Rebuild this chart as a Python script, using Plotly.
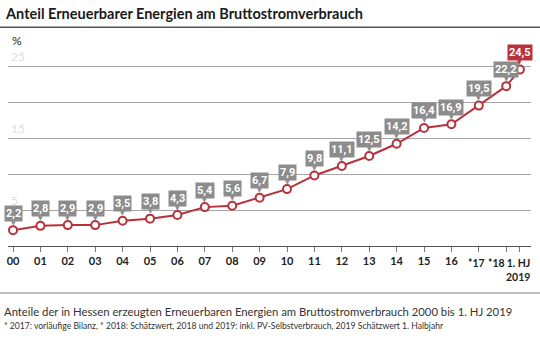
import plotly.graph_objects as go

# ---- data ----
positions = [0, 1, 2, 3, 4, 5, 6, 7, 8, 9, 10, 11, 12, 13, 14, 15, 16, 17, 18, 18.5]
tick_labels = ["00", "01", "02", "03", "04", "05", "06", "07", "08", "09",
               "10", "11", "12", "13", "14", "15", "16", "*17", "*18", "1. HJ<br>2019"]
shares = [2.2, 2.8, 2.9, 2.9, 3.5, 3.8, 4.3, 5.4, 5.6, 6.7,
          7.9, 9.8, 11.1, 12.5, 14.2, 16.4, 16.9, 19.5, 22.2, 24.5]
grid_labels = [25, 15, 5]

title = "Anteil Erneuerbarer Energien am Bruttostromverbrauch"
note1 = "Anteile der in Hessen erzeugten Erneuerbaren Energien am Bruttostromverbrauch 2000 bis 1. HJ 2019"
note2 = ("* 2017: vorläufige Bilanz, * 2018: Schätzwert, 2018 und 2019: inkl. PV-Selbstverbrauch, "
         "2019 Schätzwert 1. Halbjahr")

# ---- layout geometry (pixels) ----
W, H = 540, 341
L, R, T, B = 8, 9, 58, 95
PW, PH = W - L - R, H - T - B

def px(p):
    return (p - L) / PW

def py(p):
    return (H - B - p) / PH

RED = "#b8323b"
GRAY = "#8c8c8c"
FONT = "Lato"
LABEL_FONT = "Roboto"
TICKFONT = dict(family=FONT, size=11, color="#222", weight="bold")
TICKFONT_S = dict(family=FONT, size=10.5, color="#222", weight="bold")

fig = go.Figure()
fig.add_trace(go.Scatter(
    x=positions, y=shares, mode="lines+markers",
    line=dict(color=RED, width=2),
    marker=dict(symbol="circle", size=8, color="white",
                line=dict(color=RED, width=2)),
    cliponaxis=False, hoverinfo="skip", showlegend=False,
))

annotations = []
for g in grid_labels:
    annotations.append(dict(
        x=0, xref="paper", y=g, yref="y", text=str(g), showarrow=False,
        xanchor="left", yanchor="bottom", xshift=1, yshift=0,
        font=dict(family=FONT, size=12, color="#dedede"),
    ))

for i, (x, v) in enumerate(zip(positions, shares)):
    c = RED if i == len(shares) - 1 else GRAY
    annotations.append(dict(
        x=x, y=v, text="▼", showarrow=False, yshift=8,
        font=dict(family="DejaVu Sans", size=6, color=c),
    ))
    annotations.append(dict(
        x=x, y=v, text=f"{v:.1f}".replace(".", ","), showarrow=False,
        yshift=17, bgcolor=c, borderpad=1,
        font=dict(family=LABEL_FONT, size=11, color="white", weight="bold"),
    ))

# last three tick labels placed as annotations (tight spacing at the right end)
for idx, anchor, shift in [(-3, "center", -2), (-2, "right", 1), (-1, "right", 12.3)]:
    annotations.append(dict(
        x=positions[idx], xref="x", y=py(255), yref="paper", text=tick_labels[idx],
        showarrow=False, xanchor=anchor, yanchor="top", align="right", xshift=shift,
        font=TICKFONT_S,
    ))

annotations += [
    dict(x=px(3), y=py(13), xref="paper", yref="paper", text=title,
         showarrow=False, xanchor="left", yanchor="middle",
         font=dict(family=FONT, size=14.5, color="#1a1a1a", weight="bold")),
    dict(x=px(10), y=py(41), xref="paper", yref="paper", text="%",
         showarrow=False, xanchor="left", yanchor="middle",
         font=dict(family=FONT, size=12, color="#222")),
    dict(x=px(2), y=py(311), xref="paper", yref="paper", text=note1,
         showarrow=False, xanchor="left", yanchor="middle",
         font=dict(family=FONT, size=11.3, color="#333")),
    dict(x=px(2), y=py(326), xref="paper", yref="paper", text=note2,
         showarrow=False, xanchor="left", yanchor="middle",
         font=dict(family=FONT, size=8.6, color="#333")),
]

shapes = [
    dict(type="line", xref="paper", yref="paper", x0=px(0), x1=px(540),
         y0=py(27.3), y1=py(27.3), line=dict(color="#555", width=1.5)),
    dict(type="line", xref="paper", yref="paper", x0=px(0), x1=px(540),
         y0=py(293), y1=py(293), line=dict(color="#aaa", width=1.5)),
]

x0 = (L - 13) / 27.4
x1 = (W - R - 13) / 27.4
ticktext = tick_labels[:-3] + ["", "", ""]
fig.update_layout(
    width=W, height=H, margin=dict(l=L, r=R, t=T, b=B),
    paper_bgcolor="white", plot_bgcolor="white",
    annotations=annotations, shapes=shapes,
    xaxis=dict(range=[x0, x1], tickvals=positions, ticktext=ticktext,
               tickangle=0, showgrid=False, zeroline=False, showline=True,
               linecolor="#555", linewidth=1, ticks="outside", ticklen=5,
               tickcolor="#777", tickwidth=1, tickfont=TICKFONT),
    yaxis=dict(range=[0, PH / 7.2], tick0=0, dtick=5, showgrid=True,
               gridcolor="#a6a6a6", gridwidth=1, zeroline=False,
               showticklabels=False, showline=False, fixedrange=True),
    font=dict(family=FONT),
)

fig.write_html("out.html")
